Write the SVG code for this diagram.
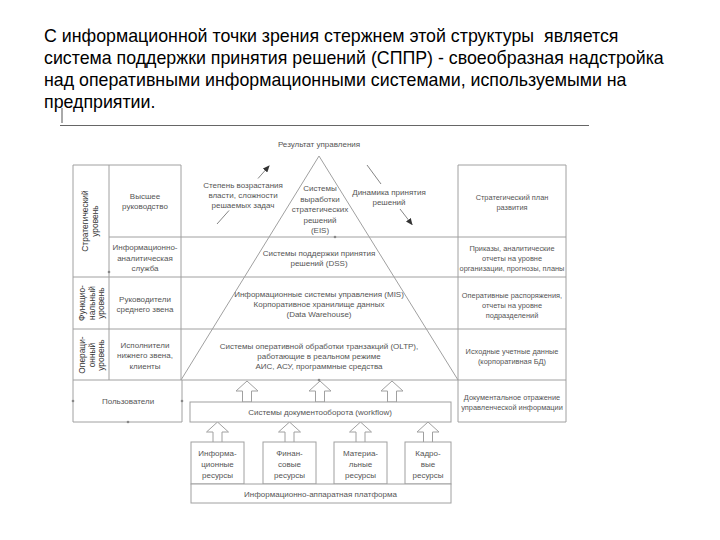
<svg xmlns="http://www.w3.org/2000/svg" width="720" height="540" viewBox="0 0 720 540">
<defs>
<style>
.h{font-family:"Liberation Sans",Arial,sans-serif;font-size:17.8px;fill:#000;white-space:pre}
.t{font-family:"Liberation Sans",Arial,sans-serif;font-size:8px;fill:#555;text-anchor:middle}
.v{font-family:"Liberation Sans",Arial,sans-serif;font-size:8.4px;fill:#333;text-anchor:middle}
.s{font-family:"Liberation Sans",Arial,sans-serif;font-size:7.4px;fill:#555;text-anchor:middle}
.ln{stroke:#a0a0a0;stroke-width:1;fill:none}
.bx{stroke:#a0a0a0;stroke-width:1;fill:#fff}
.ar{stroke:#777;stroke-width:0.9;fill:none}
.dot{fill:#888}
</style>
<marker id="ah" markerWidth="7" markerHeight="6" refX="6" refY="3" orient="auto" markerUnits="userSpaceOnUse">
<path d="M0,0 L7,3 L0,6 Z" fill="#333"/>
</marker>
<path id="barrow" d="M0,0 L11,10 L4.5,10 L4.5,21 L-4.5,21 L-4.5,10 L-11,10 Z" fill="#fff" stroke="#a0a0a0" stroke-width="1"/>
</defs>
<rect width="720" height="540" fill="#fff"/>

<g id="header">
<text class="h" x="44" y="42" xml:space="preserve">С информационной точки зрения стержнем этой структуры  является</text>
<text class="h" x="44" y="64">система поддержки принятия решений (СППР) - своеобразная надстройка</text>
<text class="h" x="44" y="86">над оперативными информационными системами, используемыми на</text>
<text class="h" x="44" y="108">предприятии.</text>
<line x1="62" y1="108" x2="62" y2="123" stroke="#555" stroke-width="1"/>
<line x1="60" y1="125.5" x2="589" y2="125.5" stroke="#666" stroke-width="1.2"/>
</g>

<g id="grid">
<path class="ln" d="M73,165 H181 M73,165 V422 M109,165 V380 M181,165 V380 M182,380 V422 M73,422 H182"/>
<path class="ln" d="M458,165 H566 M458,165 V422 M566,165 V422 M458,422 H566"/>
<path class="ln" d="M109,237 H566 M73,277 H566 M73,329 H566 M73,380 H566"/>
<path class="ln" d="M181,380 L319,156 L458,380"/>
</g>

<g id="level-strategic">
<text class="v" transform="rotate(-90 88 221)" x="88" y="221">Стратегический</text>
<text class="v" transform="rotate(-90 98 221)" x="98" y="221">уровень</text>
</g>
<g id="level-functional">
<text class="v" transform="rotate(-90 85 303)" x="85" y="303">Функцио-</text>
<text class="v" transform="rotate(-90 94.5 303)" x="94.5" y="303">нальный</text>
<text class="v" transform="rotate(-90 104 303)" x="104" y="303">уровень</text>
</g>
<g id="level-operational">
<text class="v" transform="rotate(-90 85 355)" x="85" y="355">Операци-</text>
<text class="v" transform="rotate(-90 94.5 355)" x="94.5" y="355">онный</text>
<text class="v" transform="rotate(-90 104 355)" x="104" y="355">уровень</text>
</g>

<g id="top-management"><text class="t" x="145" y="199">Высшее</text><text class="t" x="145" y="209">руководство</text></g>
<g id="analytic-service"><text class="t" x="145" y="250">Информационно-</text><text class="t" x="145" y="261">аналитическая</text><text class="t" x="145" y="271">служба</text></g>
<g id="middle-managers"><text class="t" x="145" y="302">Руководители</text><text class="t" x="145" y="312">среднего звена</text></g>
<g id="executors"><text class="t" x="145" y="348">Исполнители</text><text class="t" x="145" y="358">нижнего звена,</text><text class="t" x="145" y="369">клиенты</text></g>
<g id="users"><text class="t" x="128" y="404">Пользователи</text></g>

<g id="result"><text class="t" x="319" y="147">Результат управления</text></g>
<g id="power-label"><text class="t" x="243" y="188">Степень возрастания</text><text class="t" x="243" y="198">власти, сложности</text><text class="t" x="243" y="208">решаемых задач</text></g>
<g id="eis"><text class="t" x="320" y="191">Системы</text><text class="t" x="320" y="202">выработки</text><text class="t" x="320" y="212">стратегических</text><text class="t" x="320" y="223">решений</text><text class="t" x="320" y="233">(EIS)</text></g>
<g id="dynamics-label"><text class="t" x="389" y="195">Динамика принятия</text><text class="t" x="389" y="205">решений</text></g>
<g id="dss"><text class="t" x="319" y="256">Системы поддержки принятия</text><text class="t" x="319" y="266">решений (DSS)</text></g>
<g id="mis"><text class="t" x="319" y="297">Информационные системы управления (MIS)</text><text class="t" x="319" y="307">Корпоративное хранилище данных</text><text class="t" x="319" y="317">(Data Warehouse)</text></g>
<g id="oltp"><text class="t" x="319" y="349">Системы оперативной обработки транзакций (OLTP),</text><text class="t" x="319" y="359">работающие в реальном режиме</text><text class="t" x="319" y="369">АИС, АСУ, программные средства</text></g>

<g id="strategic-plan"><text class="s" x="512" y="200">Стратегический план</text><text class="s" x="512" y="210">развития</text></g>
<g id="orders"><text class="s" x="512" y="251">Приказы, аналитические</text><text class="s" x="512" y="261">отчеты на уровне</text><text class="s" x="512" y="271">организации, прогнозы, планы</text></g>
<g id="operative-orders"><text class="s" x="512" y="298">Оперативные распоряжения,</text><text class="s" x="512" y="308">отчеты на уровне</text><text class="s" x="512" y="318">подразделений</text></g>
<g id="source-data"><text class="s" x="512" y="354">Исходные учетные данные</text><text class="s" x="512" y="364">(корпоративная БД)</text></g>
<g id="doc-reflection"><text class="s" x="512" y="400">Документальное отражение</text><text class="s" x="512" y="410">управленческой информации</text></g>

<g id="connectors">
<line class="ar" x1="217" y1="224" x2="229" y2="210.5"/>
<line class="ar" x1="258" y1="178.5" x2="269" y2="166" marker-end="url(#ah)"/>
<line class="ar" x1="367" y1="165" x2="381" y2="184"/>
<line class="ar" x1="400" y1="209" x2="412" y2="224.5" marker-end="url(#ah)"/>
<use href="#barrow" x="247" y="381"/>
<use href="#barrow" x="320" y="381"/>
<use href="#barrow" x="392" y="381"/>
<use href="#barrow" x="217.5" y="422"/>
<use href="#barrow" x="289.5" y="422"/>
<use href="#barrow" x="360.5" y="422"/>
<use href="#barrow" x="428" y="422"/>
</g>

<g id="workflow"><rect class="bx" x="190" y="402" width="261" height="20"/><text class="t" x="320" y="415">Системы документооборота (workflow)</text></g>
<g id="res-info"><rect class="bx" x="191" y="442" width="53" height="42"/><text class="t" x="217.5" y="456">Информа-</text><text class="t" x="217.5" y="467">ционные</text><text class="t" x="217.5" y="478">ресурсы</text></g>
<g id="res-fin"><rect class="bx" x="263" y="442" width="53" height="42"/><text class="t" x="289.5" y="456">Финан-</text><text class="t" x="289.5" y="467">совые</text><text class="t" x="289.5" y="478">ресурсы</text></g>
<g id="res-mat"><rect class="bx" x="334" y="442" width="53" height="42"/><text class="t" x="360.5" y="456">Материа-</text><text class="t" x="360.5" y="467">льные</text><text class="t" x="360.5" y="478">ресурсы</text></g>
<g id="res-hr"><rect class="bx" x="405" y="442" width="46" height="42"/><text class="t" x="428" y="456">Кадро-</text><text class="t" x="428" y="467">вые</text><text class="t" x="428" y="478">ресурсы</text></g>
<g id="platform"><rect class="bx" x="191" y="484" width="260" height="19"/><text class="t" x="320.5" y="496.5">Информационно-аппаратная платформа</text></g>

<g id="handles">
<circle class="dot" cx="73" cy="401" r="1.3"/>
<circle class="dot" cx="182" cy="401" r="1.3"/>
<circle class="dot" cx="128" cy="422" r="1.3"/>
<circle class="dot" cx="319" cy="380" r="1.3"/>
<circle class="dot" cx="335" cy="237" r="1.3"/>
<circle class="dot" cx="109" cy="272" r="1.3"/>
</g>
</svg>
